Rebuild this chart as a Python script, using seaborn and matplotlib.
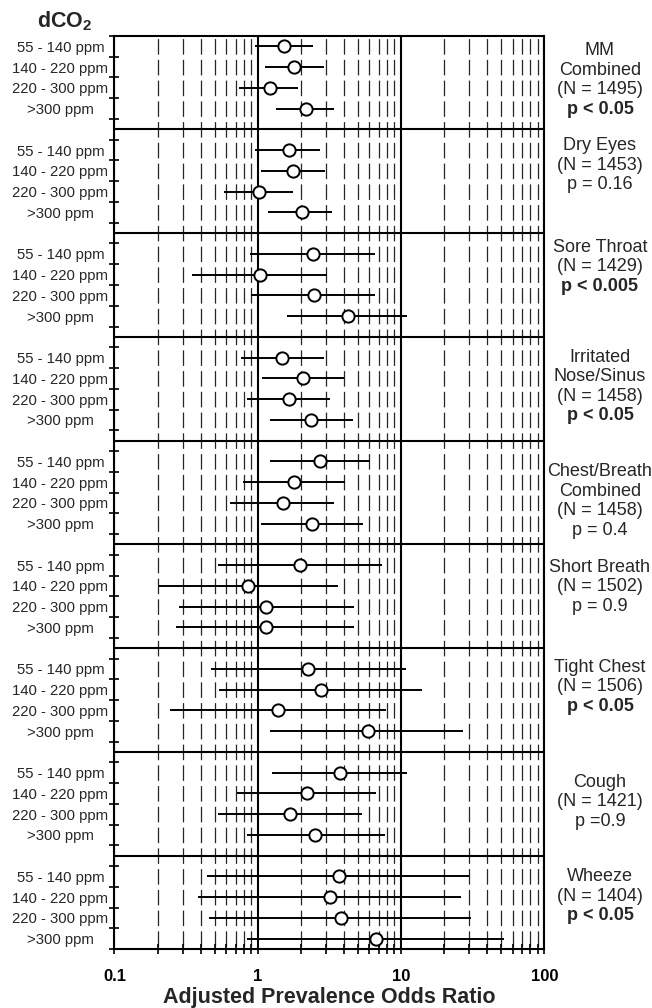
import numpy as np
import pandas as pd
import matplotlib
matplotlib.use('Agg')
import matplotlib.pyplot as plt
from matplotlib.ticker import NullFormatter, LogLocator
import seaborn as sns

# exposure groups (rows inside each panel)
groups = ['55 - 140 ppm', '140 - 220 ppm', '220 - 300 ppm', '>300 ppm']

# symptom panels, top to bottom
symptoms = ['MM\nCombined', 'Dry Eyes', 'Sore Throat', 'Irritated\nNose/Sinus',
            'Chest/Breath\nCombined', 'Short Breath', 'Tight Chest', 'Cough', 'Wheeze']
n_obs = [1495, 1453, 1429, 1458, 1458, 1502, 1506, 1421, 1404]
p_text = ['p < 0.05', 'p = 0.16', 'p < 0.005', 'p < 0.05', 'p = 0.4',
          'p = 0.9', 'p < 0.05', 'p =0.9', 'p < 0.05']
p_bold = [True, False, True, True, False, False, True, False, True]

# adjusted prevalence odds ratios and 95% CI, one list per panel
odds = [[1.52, 1.78, 1.21, 2.17],
        [1.64, 1.76, 1.02, 2.03],
        [2.42, 1.04, 2.45, 4.25],
        [1.48, 2.08, 1.64, 2.35],
        [2.73, 1.80, 1.49, 2.39],
        [1.98, 0.85, 1.14, 1.14],
        [2.25, 2.77, 1.38, 5.86],
        [3.77, 2.21, 1.69, 2.52],
        [3.67, 3.21, 3.81, 6.69]]
ci_lo = [[0.96, 1.13, 0.74, 1.35],
         [0.96, 1.05, 0.58, 1.17],
         [0.88, 0.35, 0.90, 1.60],
         [0.76, 1.07, 0.84, 1.22],
         [1.22, 0.79, 0.64, 1.05],
         [0.53, 0.20, 0.28, 0.27],
         [0.47, 0.54, 0.245, 1.21],
         [1.25, 0.72, 0.53, 0.84],
         [0.44, 0.38, 0.46, 0.84]]
ci_hi = [[2.42, 2.89, 1.92, 3.43],
         [2.73, 2.96, 1.75, 3.30],
         [6.59, 3.05, 6.59, 11.0],
         [2.89, 4.02, 3.17, 4.60],
         [6.11, 4.09, 3.43, 5.41],
         [7.37, 3.65, 4.68, 4.68],
         [10.8, 14.0, 7.86, 27.2],
         [11.0, 6.69, 5.35, 7.73],
         [30.0, 26.2, 30.8, 52.1]]

# layout: vertical centre of the right-hand label block inside each panel
label_centre = [2.12, 1.24, 1.11, 1.90, 2.41, 1.54, 1.36, 1.90, 1.45]

slot = 5  # 4 rows + 1 separator slot per panel
rows = []
for p in range(len(symptoms)):
    for k, g in enumerate(groups):
        rows.append({'panel': p, 'group': g, 'pos': p * slot + k + 0.5,
                     'or': odds[p][k], 'lo': ci_lo[p][k], 'hi': ci_hi[p][k]})
df = pd.DataFrame(rows)
n_slots = len(symptoms) * slot - 1

sns.set_theme(style='white')
plt.rcParams['font.family'] = ['Liberation Sans', 'DejaVu Sans']
plt.rcParams['mathtext.fontset'] = 'custom'
plt.rcParams['mathtext.rm'] = 'Liberation Sans'
plt.rcParams['mathtext.bf'] = 'Liberation Sans:bold'
plt.rcParams['lines.scale_dashes'] = False

fig = plt.figure(figsize=(6.52, 10.08), dpi=100)
ax = fig.add_axes([0.1756, 0.0585, 0.6592, 0.9058])
ax.set_xscale('log')
ax.set_xlim(0.1, 100)
ax.set_ylim(n_slots, 0)

# grid: solid at decades, dashed at the in-between values
slot_pt = 20.75 * 0.72
on, off = slot_pt * 0.75, slot_pt * 0.25
ax.set_axisbelow(True)
ax.xaxis.set_minor_locator(LogLocator(base=10, subs=np.arange(2, 10)))
ax.xaxis.grid(True, which='minor', color='0.15', lw=0.9,
              linestyle=(on + off / 2, (on, off)))
ax.xaxis.grid(True, which='major', color='black', lw=1.5, linestyle='-')
ax.yaxis.grid(False)

# separators between panels
for p in range(1, len(symptoms)):
    ax.axhline(p * slot - 0.5, color='black', lw=1.5, zorder=2)

# confidence intervals and point estimates
ax.hlines(df['pos'], df['lo'], df['hi'], color='black', lw=1.4, zorder=3)
sns.scatterplot(data=df, x='or', y='pos', ax=ax, s=78, color='white',
                edgecolor='black', linewidth=1.4, zorder=4, legend=False)

# axes styling
for sp in ax.spines.values():
    sp.set_linewidth(1.5)
    sp.set_color('black')

ax.set_xticks([0.1, 1, 10, 100])
ax.set_xticklabels(['0.1', '1', '10', '100'], fontweight='bold', fontsize=12)
ax.xaxis.set_minor_formatter(NullFormatter())
ax.tick_params(axis='x', which='both', direction='inout', length=7, width=1.2,
               bottom=True, top=False, pad=11, colors='black')
ax.set_xlabel('Adjusted Prevalence Odds Ratio', fontweight='bold', fontsize=15.5,
              labelpad=2)

ax.set_yticks(np.arange(0, n_slots + 1))
ax.set_yticklabels([])
ax.set_yticks(df['pos'], labels=df['group'], minor=True)
ax.tick_params(axis='y', which='major', direction='inout', length=7, width=1.2,
               left=True, right=False, colors='black')
ax.tick_params(axis='y', which='minor', length=0, pad=39, labelsize=10.7,
               left=True, right=False)
for t in ax.get_yticklabels(minor=True):
    t.set_ha('center')
ax.set_ylabel('')

# right-hand labels
line_step = 0.94
yx = ax.get_yaxis_transform()
for p, name in enumerate(symptoms):
    lines = name.split('\n') + ['(N = {})'.format(n_obs[p]), p_text[p]]
    start = p * slot + label_centre[p] - (len(lines) - 1) / 2 * line_step
    for i, line in enumerate(lines):
        bold = (i == len(lines) - 1) and p_bold[p]
        ax.text(1.1296, start + i * line_step, line, transform=yx,
                ha='center', va='center', fontsize=13,
                fontweight='bold' if bold else 'normal', clip_on=False)

fig.text(37 / 652, 1 - 27 / 1008, r'$\mathbf{dCO_2}$', fontsize=15.5,
         ha='left', va='baseline')

fig.savefig('out.png', dpi=100, facecolor='white')
